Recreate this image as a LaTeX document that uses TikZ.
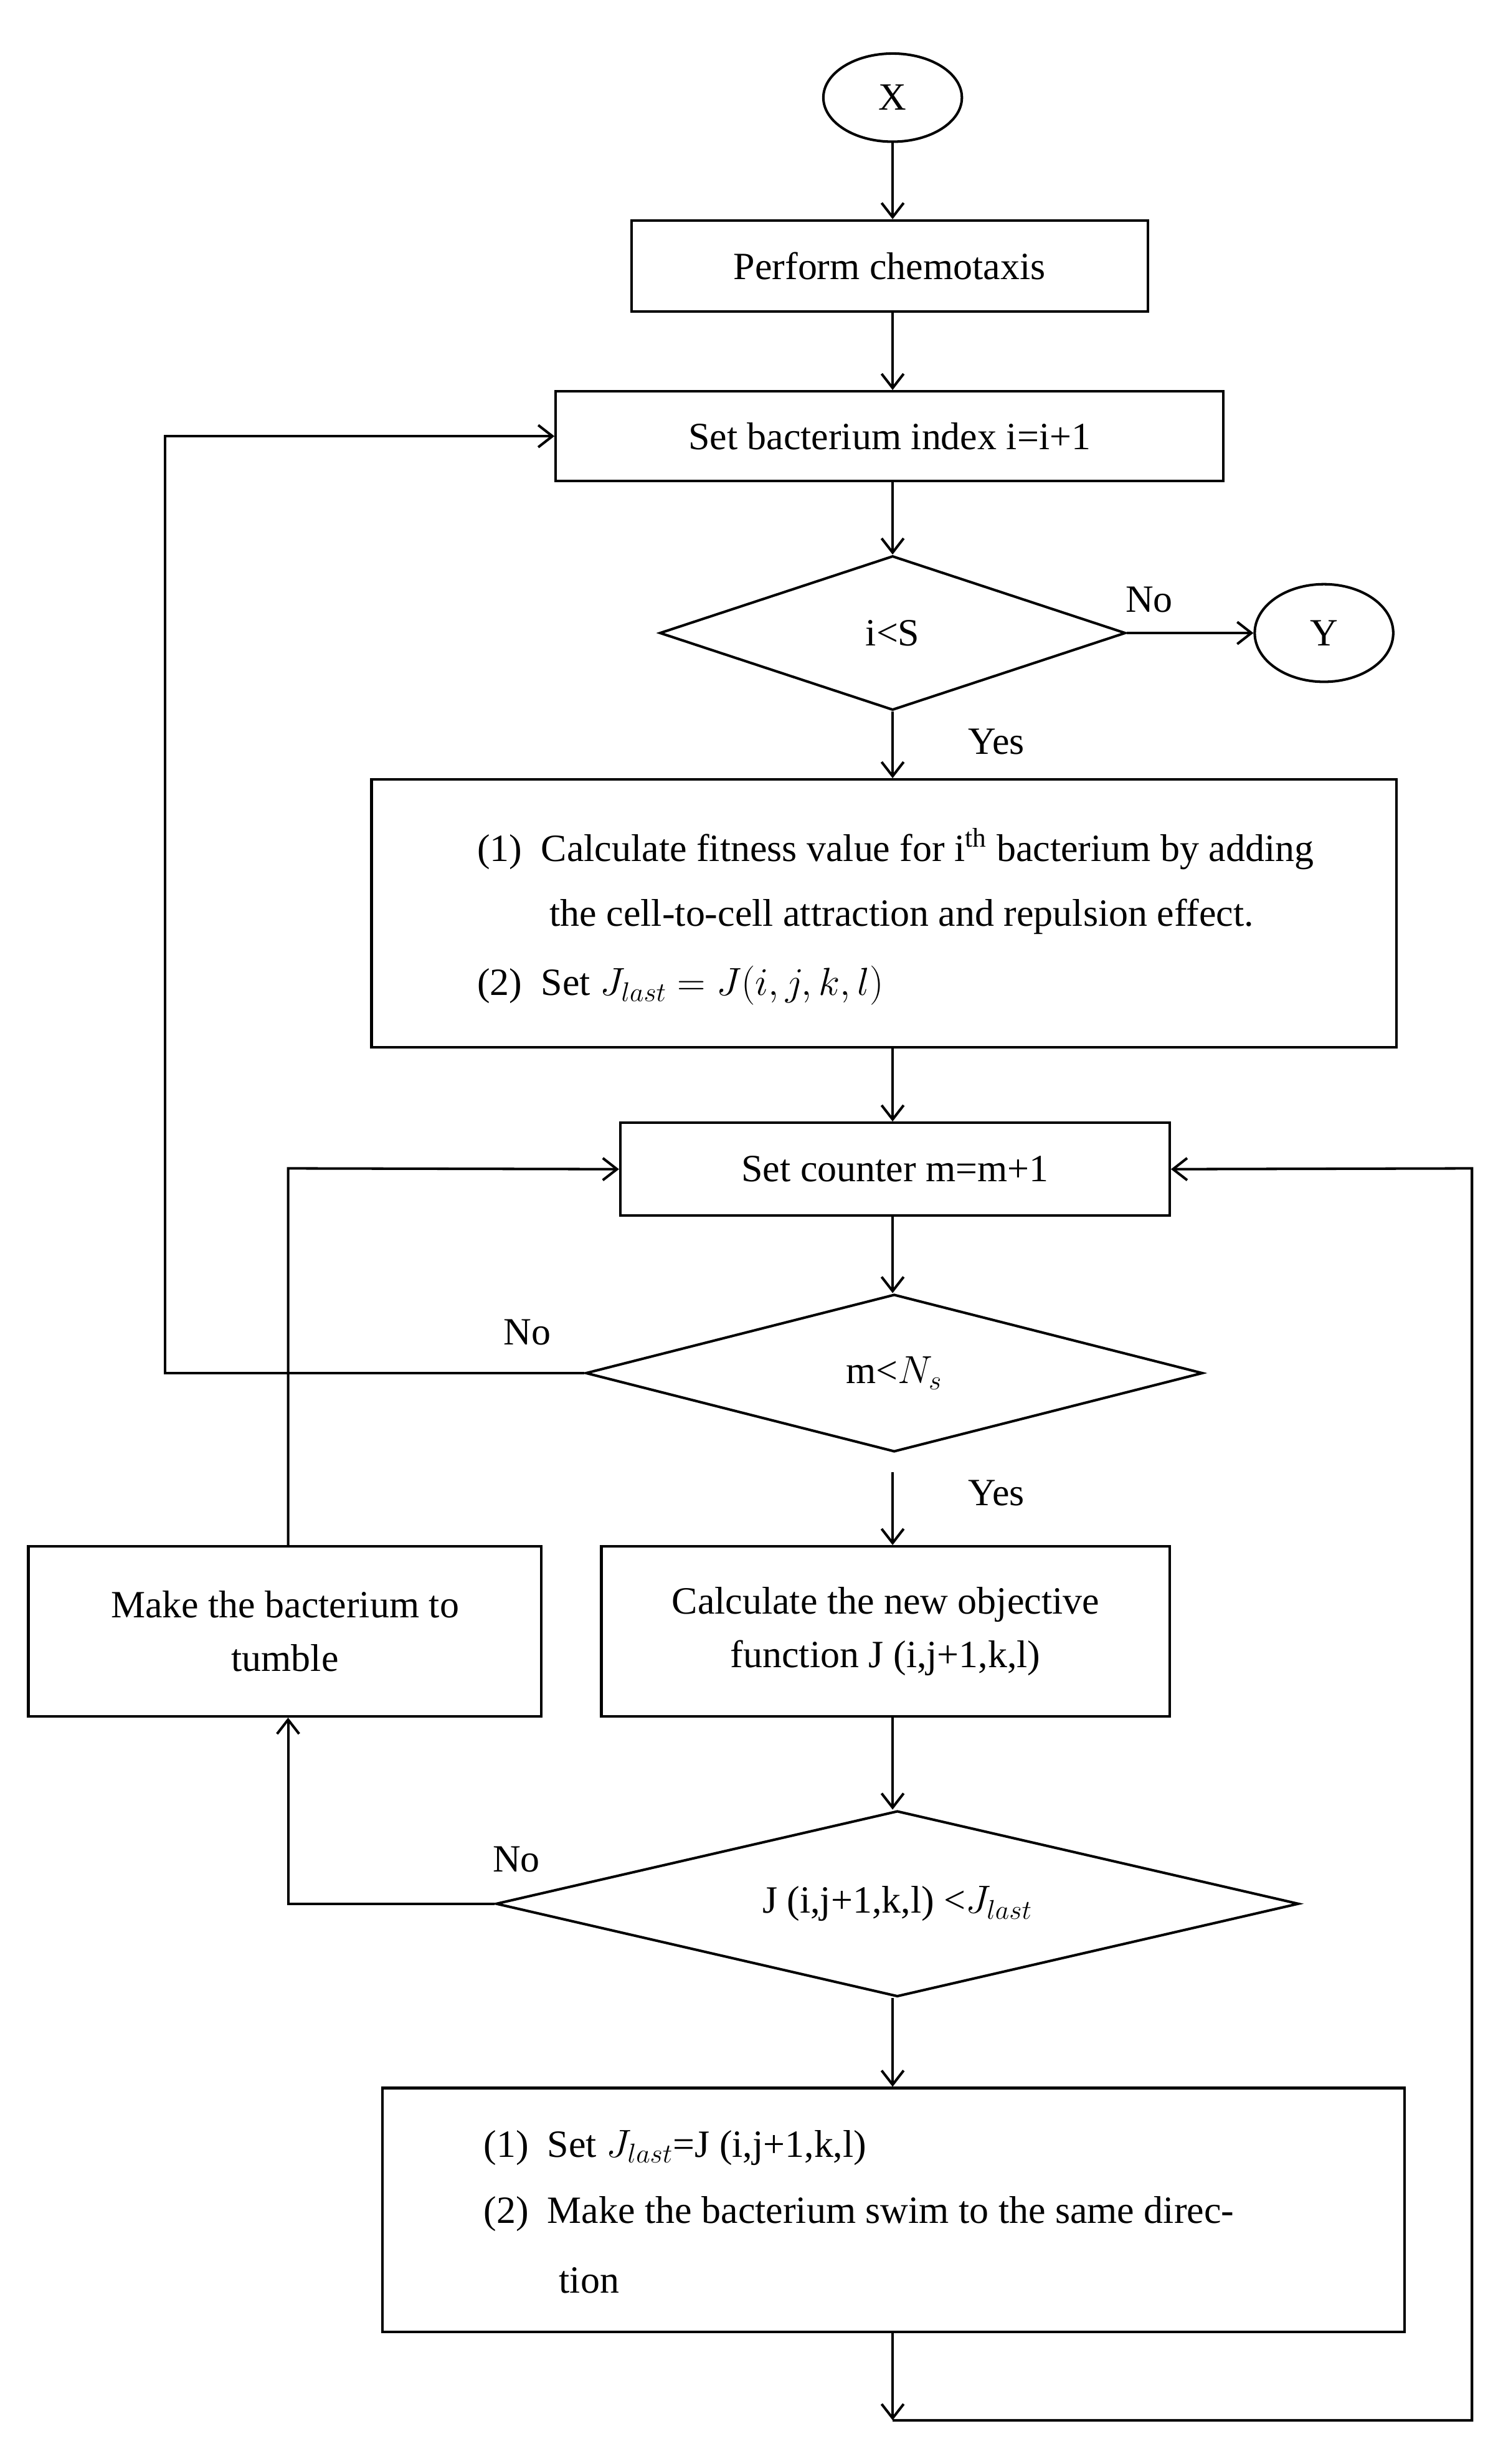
\documentclass[tikz,border=0pt]{standalone}
\usepackage{fontspec}
\setmainfont{Liberation Serif}
\usetikzlibrary{shapes.geometric,arrows.meta}
\begin{document}
\begin{tikzpicture}[x=1pt,y=-1pt,
  every node/.style={font=\fontsize{24.5}{30}\selectfont},
  ln/.style={line width=1.6pt},
  ar/.style={line width=1.6pt,-{Straight Barb[length=9pt,width=14pt,line width=1.6pt]}},
  lab/.style={inner sep=0pt}]
\useasboundingbox (0,0) rectangle (948,1564.8);
\node[draw,ellipse,ln,minimum width=88pt,minimum height=56pt] (X) at (567,62) {X};
\node[draw,ln,minimum width=328pt,minimum height=58pt] (pc) at (565,169) {Perform chemotaxis};
\node[draw,ln,minimum width=424pt,minimum height=57pt] (sb) at (565,277) {Set bacterium index i=i+1};
\node[draw,diamond,ln,minimum width=296pt,minimum height=98pt,inner sep=0pt,aspect=3] (d1) at (567,402) {i<S};
\node[draw,ellipse,ln,minimum width=88pt,minimum height=62pt] (Y) at (841,402) {Y};
\node[lab] (no1) at (730,381) {No};
\node[lab] (yes1) at (633,471) {Yes};
\node[draw,ln,minimum width=651pt,minimum height=170pt] (b1) at (561.5,580) {};
\node[lab,anchor=west] (t11) at (303,539) {(1)\hspace{12pt}Calculate fitness value for i\textsuperscript{th} bacterium by adding};
\node[lab,anchor=west] (t12) at (349,582) {the cell-to-cell attraction and repulsion effect.};
\node[lab,anchor=west] (t13) at (303,626) {(2)\hspace{12pt}Set $J_{last}=J(i,j,k,l)$};
\node[draw,ln,minimum width=349pt,minimum height=59pt] (sc) at (568.5,742.5) {Set counter m=m+1};
\node[draw,diamond,ln,minimum width=392pt,minimum height=100pt,inner sep=0pt,aspect=3.9] (d2) at (568,872) {m<$N_s$};
\node[lab] (no2) at (335,846) {No};
\node[lab] (yes2) at (633,948) {Yes};
\node[draw,ln,minimum width=326pt,minimum height=108pt,align=center] (tu) at (181,1036) {Make the bacterium to\\[4pt]tumble};
\node[draw,ln,minimum width=361pt,minimum height=108pt,align=center] (co) at (562.5,1036) {Calculate the new objective\\[4pt]function J (i,j+1,k,l)};
\node[draw,diamond,ln,minimum width=510pt,minimum height=118pt,inner sep=0pt,aspect=4.3] (d3) at (570,1209) {J (i,j+1,k,l) <$J_{last}$};
\node[lab] (no3) at (328,1181) {No};
\node[draw,ln,minimum width=649pt,minimum height=155pt] (b2) at (567.5,1403.5) {};
\node[lab,anchor=west] (t21) at (307,1364) {(1)\hspace{12pt}Set $J_{last}$=J (i,j+1,k,l)};
\node[lab,anchor=west] (t22) at (307,1406) {(2)\hspace{12pt}Make the bacterium swim to the same direc-};
\node[lab,anchor=west] (t23) at (355,1448) {tion};
\coordinate (e1) at (567,1537);
\coordinate (e2) at (935,1537);
\coordinate (e3) at (935,742);
\coordinate (l1) at (105,872);
\coordinate (l2) at (105,277);
\coordinate (m1) at (183,1209);
\coordinate (m2) at (183,742);
\coordinate (ys) at (567,935);
\draw[ar] (X) -- (X |- pc.north);
\draw[ar] (X |- pc.south) -- (X |- sb.north);
\draw[ar] (X |- sb.south) -- (d1.north);
\draw[ar] (d1.east) -- (Y);
\draw[ar] (d1.south) -- (d1 |- b1.north);
\draw[ar] (d1 |- b1.south) -- (d1 |- sc.north);
\draw[ar] (d1 |- sc.south) -- (d1 |- d2.north);
\draw[ar] (ys) -- (ys |- co.north);
\draw[ar] (d2.west) -- (l1) -- (l2) -- (sb.west);
\draw[ar] (ys |- co.south) -- (ys |- d3.north);
\draw[ar] (d3.west) -- (m1) -- (m1 |- tu.south);
\draw[ar] (m1 |- tu.north) -- (m2) -- (sc.west);
\draw[ar] (ys |- d3.south) -- (ys |- b2.north);
\draw[ar] (ys |- b2.south) -- (e1);
\draw[ar] (e1) -- (e2) -- (e3) -- (sc.east);
\end{tikzpicture}
\end{document}
